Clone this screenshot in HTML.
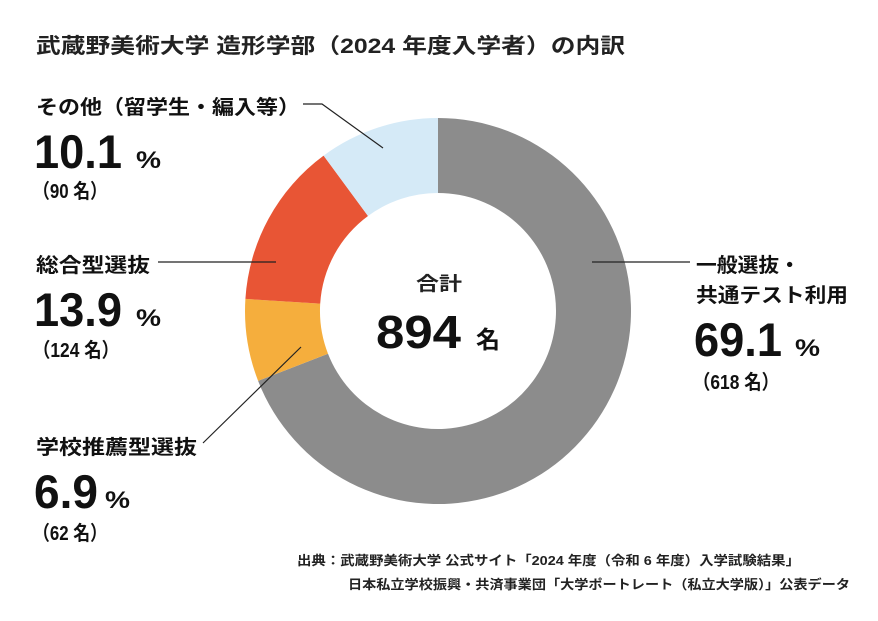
<!DOCTYPE html>
<html><head><meta charset="utf-8"><style>
html,body{margin:0;padding:0;background:#fff;}
svg{display:block;font-family:"Liberation Sans","Noto Sans CJK JP",sans-serif;}
text{font-weight:bold;}
</style></head><body>
<svg width="878" height="621" viewBox="0 0 878 621" xmlns="http://www.w3.org/2000/svg">
<rect width="878" height="621" fill="#fff"/>
<text x="36" y="53" font-size="21" fill="#222" textLength="589" lengthAdjust="spacingAndGlyphs">武蔵野美術大学 造形学部（2024 年度入学者）の内訳</text>
<path d="M438,118 A193,193 0 1,1 258.1,380.9 L328,353.7 A118,118 0 1,0 438,193 Z" fill="#8c8c8c"/>
<path d="M258.1,380.9 A193,193 0 0,1 245.4,298.9 L320.2,303.6 A118,118 0 0,0 328,353.7 Z" fill="#f5ae3d"/>
<path d="M245.4,298.9 A193,193 0 0,1 323.6,155.6 L368,216 A118,118 0 0,0 320.2,303.6 Z" fill="#e85535"/>
<path d="M323.6,155.6 A193,193 0 0,1 438,118 L438,193 A118,118 0 0,0 368,216 Z" fill="#d5eaf7"/>
<text x="416" y="290" font-size="19" fill="#222" textLength="46" lengthAdjust="spacingAndGlyphs">合計</text>
<text x="376" y="348" font-size="46" fill="#111" textLength="85" lengthAdjust="spacingAndGlyphs">894</text>
<text x="476" y="348" font-size="24" fill="#111">名</text>
<g stroke="#222" stroke-width="1.2" fill="none">
<polyline points="303,104 322,104 383,148"/>
<line x1="158" y1="262" x2="276" y2="262"/>
<line x1="203" y1="443" x2="301" y2="347"/>
<line x1="592" y1="262" x2="690" y2="262"/>
</g>
<g fill="#111">
<text x="36" y="114" font-size="20" textLength="264" lengthAdjust="spacingAndGlyphs">その他（留学生・編入等）</text>
<text x="34" y="168" font-size="47" textLength="88" lengthAdjust="spacingAndGlyphs">10.1</text>
<text x="136" y="168" font-size="24" textLength="25" lengthAdjust="spacingAndGlyphs">%</text>
<text x="33" y="198" font-size="20" textLength="74" lengthAdjust="spacingAndGlyphs">（90 名）</text>

<text x="36" y="272" font-size="20" textLength="114" lengthAdjust="spacingAndGlyphs">総合型選抜</text>
<text x="34" y="326" font-size="47" textLength="88" lengthAdjust="spacingAndGlyphs">13.9</text>
<text x="136" y="326" font-size="24" textLength="25" lengthAdjust="spacingAndGlyphs">%</text>
<text x="33" y="357" font-size="20" textLength="86" lengthAdjust="spacingAndGlyphs">（124 名）</text>

<text x="36" y="454" font-size="20" textLength="161" lengthAdjust="spacingAndGlyphs">学校推薦型選抜</text>
<text x="34" y="508" font-size="47" textLength="64" lengthAdjust="spacingAndGlyphs">6.9</text>
<text x="105" y="508" font-size="24" textLength="25" lengthAdjust="spacingAndGlyphs">%</text>
<text x="33" y="540" font-size="20" textLength="74" lengthAdjust="spacingAndGlyphs">（62 名）</text>

<text x="696" y="272" font-size="20" textLength="104" lengthAdjust="spacingAndGlyphs">一般選抜・</text>
<text x="696" y="302" font-size="20" textLength="152" lengthAdjust="spacingAndGlyphs">共通テスト利用</text>
<text x="694" y="356" font-size="47" textLength="88" lengthAdjust="spacingAndGlyphs">69.1</text>
<text x="795" y="356" font-size="24" textLength="25" lengthAdjust="spacingAndGlyphs">%</text>
<text x="693" y="389" font-size="20" textLength="86" lengthAdjust="spacingAndGlyphs">（618 名）</text>
</g>
<text x="297" y="565" font-size="13" fill="#222" textLength="503" lengthAdjust="spacingAndGlyphs">出典：武蔵野美術大学 公式サイト「2024 年度（令和 6 年度）入学試験結果」</text>
<text x="348" y="589" font-size="13" fill="#222" textLength="502" lengthAdjust="spacingAndGlyphs">日本私立学校振興・共済事業団「大学ポートレート（私立大学版）」公表データ</text>
</svg>
</body></html>
